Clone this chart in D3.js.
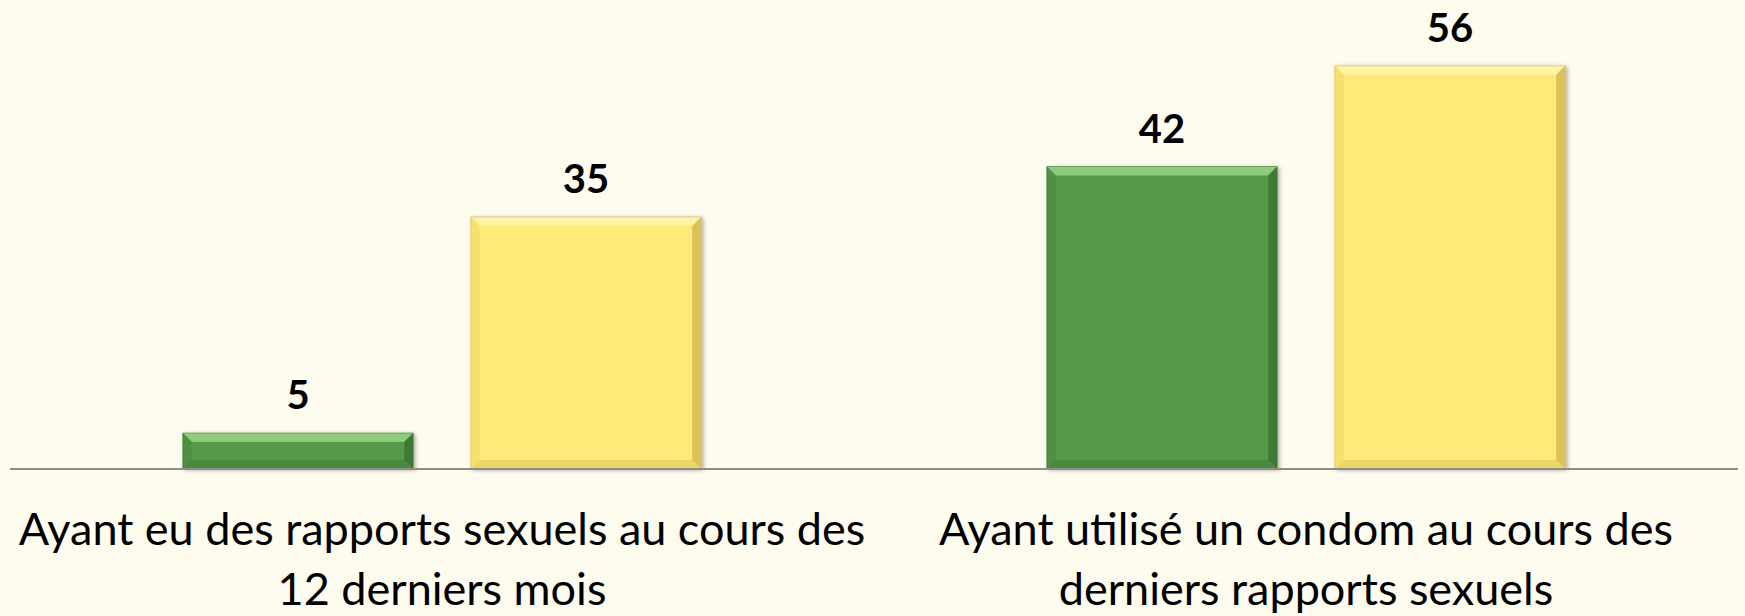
<!DOCTYPE html>
<html>
<head>
<meta charset="utf-8">
<script src="https://cdn.jsdelivr.net/npm/d3@7"></script>
<style>
  body { margin: 0; background: #fefbef; }
  svg { display: block; }
</style>
</head>
<body>
<div id="chart"></div>
<script>
// data
var categories = [
  ["Ayant eu des rapports sexuels au cours des", "12 derniers mois"],
  ["Ayant utilisé un condom au cours des", "derniers rapports sexuels"]
];
var seriesNames = ["A", "B"];
var seriesA = [5, 42];
var seriesB = [35, 56];

var svgWidth = 1745;
var svgHeight = 616;

var margin = { top: 37, right: 7, bottom: 147, left: 10 };
var width = svgWidth - margin.left - margin.right;
var height = svgHeight - margin.top - margin.bottom;

var colors = {
  A: { main: "#559a49", top: "#8dcc7d", left: "#4e9142", right: "#3f7a35", bottom: "#4a8a3f" },
  B: { main: "#ffe978", top: "#fff3a6", left: "#f7e070", right: "#d9c25a", bottom: "#eed56a" }
};

var svg = d3.select("#chart")
  .append("svg")
  .attr("width", svgWidth)
  .attr("height", svgHeight);

var defs = svg.append("defs");
var shadow = defs.append("filter")
  .attr("id", "shadow")
  .attr("x", "-10%").attr("y", "-10%")
  .attr("width", "130%").attr("height", "130%");
shadow.append("feDropShadow")
  .attr("dx", 2).attr("dy", 1)
  .attr("stdDeviation", 2)
  .attr("flood-color", "#000")
  .attr("flood-opacity", 0.35);

var chartGroup = svg.append("g")
  .attr("transform", `translate(${margin.left}, ${margin.top})`);

var catIndex = categories.map((c, i) => i);

var x0 = d3.scaleBand()
  .domain(catIndex)
  .range([0, width])
  .padding(0);

var x1 = d3.scaleBand()
  .domain(seriesNames)
  .range([0, x0.bandwidth()])
  .paddingInner(0.2)
  .paddingOuter(0.6);

var yLinearScale = d3.scaleLinear()
  .domain([0, 60])
  .range([height, 0]);

var rows = [];
catIndex.forEach(function(i) {
  rows.push({ cat: i, s: "A", value: seriesA[i] });
  rows.push({ cat: i, s: "B", value: seriesB[i] });
});

var bev = 9;

var barGroups = chartGroup.selectAll(".bar")
  .data(rows)
  .enter()
  .append("g")
  .attr("class", "bar")
  .attr("transform", d => `translate(${x0(d.cat) + x1(d.s)}, ${yLinearScale(d.value)})`);

barGroups.each(function(d) {
  var g = d3.select(this);
  var w = x1.bandwidth();
  var h = height - yLinearScale(d.value);
  var b = Math.min(bev, h / 3);
  var c = colors[d.s];

  g.append("rect")
    .attr("width", w)
    .attr("height", h)
    .attr("fill", c.main)
    .attr("filter", "url(#shadow)");

  // bevel edges
  g.append("polygon")
    .attr("points", [[0, 0], [w, 0], [w - b, b], [b, b]].join(" "))
    .attr("fill", c.top);
  g.append("polygon")
    .attr("points", [[0, 0], [b, b], [b, h - b], [0, h]].join(" "))
    .attr("fill", c.left);
  g.append("polygon")
    .attr("points", [[w, 0], [w, h], [w - b, h - b], [w - b, b]].join(" "))
    .attr("fill", c.right);
  g.append("polygon")
    .attr("points", [[0, h], [b, h - b], [w - b, h - b], [w, h]].join(" "))
    .attr("fill", c.bottom);
  g.append("rect")
    .attr("width", w)
    .attr("height", h)
    .attr("fill", "none")
    .attr("stroke", d.s === "A" ? "#3d7434" : "#c9b452")
    .attr("stroke-width", 0.8)
    .attr("stroke-opacity", 0.6);
});

// value labels
chartGroup.selectAll(".valueText")
  .data(rows)
  .enter()
  .append("text")
  .attr("class", "valueText")
  .attr("x", d => x0(d.cat) + x1(d.s) + x1.bandwidth() / 2)
  .attr("y", d => yLinearScale(d.value) - 24)
  .attr("text-anchor", "middle")
  .attr("font-family", "Lato, 'Open Sans', sans-serif")
  .attr("font-weight", "bold")
  .attr("font-size", "40px")
  .attr("fill", "#000")
  .text(d => d.value);

// baseline
chartGroup.append("line")
  .attr("x1", 0)
  .attr("x2", width)
  .attr("y1", height)
  .attr("y2", height)
  .attr("stroke", "#8c8c8c")
  .attr("stroke-width", 2);

// category labels
var catLabels = chartGroup.selectAll(".catText")
  .data(catIndex)
  .enter()
  .append("text")
  .attr("class", "catText")
  .attr("text-anchor", "middle")
  .attr("font-family", "Lato, 'Open Sans', sans-serif")
  .attr("font-size", "45px")
  .attr("fill", "#000");

catLabels.each(function(i) {
  var t = d3.select(this);
  categories[i].forEach(function(line, k) {
    t.append("tspan")
      .attr("x", x0(i) + x0.bandwidth() / 2)
      .attr("y", height + 76 + k * 60)
      .text(line);
  });
});
</script>
</body>
</html>
